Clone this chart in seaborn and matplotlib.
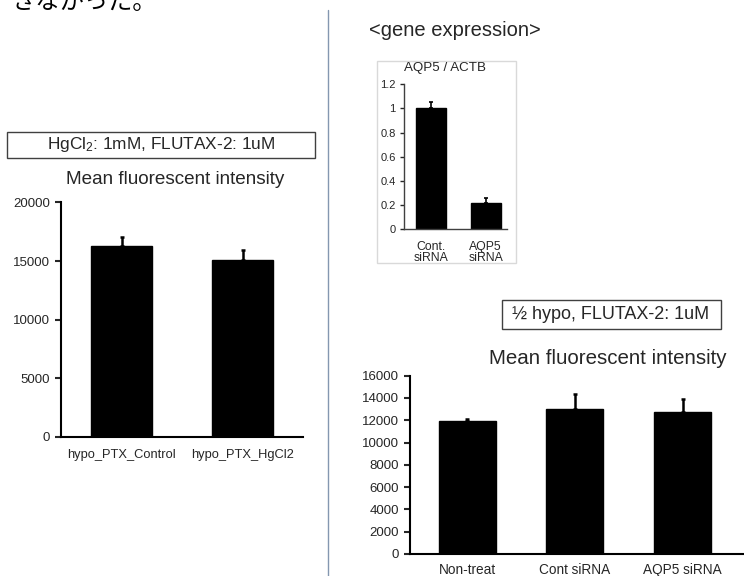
import numpy as np
import pandas as pd
import matplotlib
matplotlib.use("Agg")
import matplotlib.pyplot as plt
import seaborn as sns
from matplotlib.patches import Rectangle
from matplotlib.lines import Line2D

# data
hg_labels = ["hypo_PTX_Control", "hypo_PTX_HgCl2"]
hg_means = [16300, 15050]
hg_err = [730, 900]

gene_labels = ["Cont.\nsiRNA", "AQP5\nsiRNA"]
gene_means = [1.0, 0.215]
gene_err = [0.055, 0.045]

hypo_labels = ["Non-treat", "Cont siRNA", "AQP5 siRNA"]
hypo_means = [11940, 13010, 12720]
hypo_err = [160, 1320, 1190]

sns.set_theme(style="white")
plt.rcParams["font.family"] = ["Liberation Sans", "DejaVu Sans"]
plt.rcParams["mathtext.default"] = "regular"

W, H = 744, 576
fig = plt.figure(figsize=(W / 100, H / 100), dpi=100)


def px_axes(left, right, top, bottom):
    return fig.add_axes([left / W, 1 - bottom / H, (right - left) / W, (bottom - top) / H])


def draw_bars(ax, labels, means, errs, width, lw, capsize):
    df = pd.DataFrame({"cat": labels, "val": means})
    sns.barplot(data=df, x="cat", y="val", color="black", saturation=1,
                width=width, edgecolor="black", ax=ax)
    ax.errorbar(np.arange(len(means)), means, yerr=[np.zeros(len(errs)), errs],
                fmt="none", ecolor="black", elinewidth=lw, capsize=capsize, capthick=lw)
    ax.set_xlabel("")
    ax.set_ylabel("")
    for s in ["top", "right"]:
        ax.spines[s].set_visible(False)
    ax.set_facecolor("none")


# top-left sentence, clipped by the slide edge as in the source
fig.text(11 / W, 1 - 15 / H, "きなかった。", fontsize=17.5, va="bottom", ha="left",
         family=["Noto Sans CJK JP", "DejaVu Sans"], color="black")

# divider
fig.add_artist(Line2D([328 / W, 328 / W], [0, 1 - 10 / H], transform=fig.transFigure,
                      color="#8497b0", lw=1))

# ---- left chart
fig.add_artist(Rectangle((7 / W, 1 - 158 / H), 308 / W, 26 / H, transform=fig.transFigure,
                         fill=False, edgecolor="#404040", lw=1))
fig.text(161 / W, 1 - 145 / H, "HgCl$_2$: 1mM, FLUTAX-2: 1uM", fontsize=12.4,
         ha="center", va="center")
fig.text(175 / W, 1 - 179 / H, "Mean fluorescent intensity", fontsize=13.6,
         ha="center", va="center")

ax1 = px_axes(61, 303, 202.5, 436.7)
draw_bars(ax1, hg_labels, hg_means, hg_err, 0.51, 1.8, 1.6)
ax1.set_xlim(-0.5, 1.5)
ax1.set_ylim(0, 20000)
ax1.set_yticks(range(0, 20001, 5000))
for s in ["left", "bottom"]:
    ax1.spines[s].set_color("black")
    ax1.spines[s].set_linewidth(1.5)
ax1.tick_params(axis="y", left=True, length=4, width=1.5, labelsize=9.5, pad=4)
ax1.tick_params(axis="x", bottom=False, length=0, labelsize=9.3, pad=8.6)

# ---- gene expression inset
fig.text(455 / W, 1 - 31 / H, "<gene expression>", fontsize=14.5, ha="center", va="center")
fig.add_artist(Rectangle((377 / W, 1 - 262.5 / H), 139 / W, 201.5 / H,
                         transform=fig.transFigure, fill=False, edgecolor="#d9d9d9", lw=1))
fig.text(445 / W, 1 - 68 / H, "AQP5 / ACTB", fontsize=9.6, ha="center", va="center")

ax2 = px_axes(404, 507, 84.3, 229.3)
draw_bars(ax2, gene_labels, gene_means, gene_err, 0.55, 1.2, 1.2)
ax2.set_xlim(-0.5, 1.39)
ax2.set_ylim(0, 1.2)
ax2.set_yticks([0, 0.2, 0.4, 0.6, 0.8, 1.0, 1.2])
ax2.set_yticklabels(["0", "0.2", "0.4", "0.6", "0.8", "1", "1.2"])
for s in ["left", "bottom"]:
    ax2.spines[s].set_color("#404040")
    ax2.spines[s].set_linewidth(1)
ax2.tick_params(axis="y", left=True, length=3, width=1, labelsize=8, pad=3)
ax2.tick_params(axis="x", bottom=False, length=0, labelsize=8.8, pad=8.2)
for t in ax2.get_xticklabels():
    t.set_linespacing(0.95)

# ---- 1/2 hypo chart
fig.add_artist(Rectangle((502 / W, 1 - 329 / H), 219 / W, 29 / H, transform=fig.transFigure,
                         fill=False, edgecolor="#404040", lw=1))
fig.text(611 / W, 1 - 314.5 / H, "½ hypo, FLUTAX-2: 1uM", fontsize=13,
         ha="center", va="center")
fig.text(608 / W, 1 - 358 / H, "Mean fluorescent intensity", fontsize=14.8,
         ha="center", va="center")

ax3 = px_axes(410, 744, 375.7, 554)
draw_bars(ax3, hypo_labels, hypo_means, hypo_err, 0.53, 1.8, 1.6)
ax3.set_xlim(-0.53, 2.57)
ax3.set_ylim(0, 16000)
ax3.set_yticks(range(0, 16001, 2000))
for s in ["left", "bottom"]:
    ax3.spines[s].set_color("black")
    ax3.spines[s].set_linewidth(1.5)
ax3.tick_params(axis="y", left=True, length=4, width=1.5, labelsize=9.5, pad=4)
ax3.tick_params(axis="x", bottom=False, length=0, labelsize=9.8, pad=6.7)

fig.savefig("out.png", dpi=100, facecolor="white")
